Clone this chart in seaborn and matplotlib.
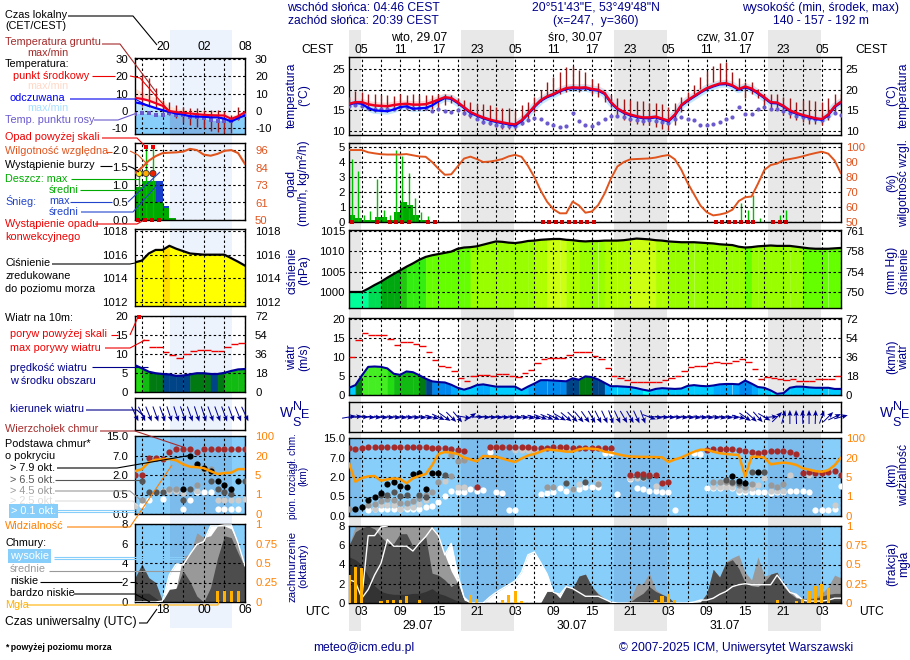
import numpy as np
import matplotlib
matplotlib.use("Agg")
import matplotlib.pyplot as plt
import seaborn as sns

sns.set_theme(style="white")
plt.rcParams['font.family'] = ['Liberation Sans', 'DejaVu Sans']
plt.rcParams['axes.unicode_minus'] = False

# ---------- main panel data (hourly, UTC 01 on 29.07 = hour 0) ----------
temp_mid = [16.6,17,17,16.5,16.2,16.1,16,16.3,16.5,16.6,16.4,16.4,16.5,17,17.6,18.2,18,17,15.8,14.6,13.9,13.3,12.8,12.4,12.1,11.8,11.6,12.6,14.2,16,17.5,18.4,19,19.8,20.4,20.6,20.5,20.6,20.2,20,19.2,17,15.5,14.6,14,13.6,13.3,13.3,13.5,13,12.5,14,16.3,17.5,18.5,19.5,20.4,21,21.5,21.6,21.1,20.2,20.8,20.3,19.3,18.2,17,16.9,16.1,15,14.4,13.9,13.5,13.1,12.9,14,16,17.1]
temp_feel = [16.4,16.8,16.6,15.6,15,14.9,14.8,15.2,15.8,16,15.4,15.5,15.6,16.2,17.2,18,17.8,16.8,15.6,14.4,13.7,13.1,12.6,12.2,11.9,11.6,11.3,12.4,14,15.8,17.3,18.2,18.8,19.6,20.2,20.4,20.3,20.4,20,19.8,19,16.8,15.3,14.4,13.8,13.4,13.1,13.1,13.3,12.8,12.3,13.8,16.1,17.3,18.3,19.3,20.2,20.8,21.3,21.4,20.9,20,20.6,20.1,19.1,18,16.8,16.7,15.9,14.8,14.2,13.7,13.3,12.9,12.7,13.8,15.8,16.9]
dew_point = [16,16.2,16,15.7,15.3,15.3,15.3,15.4,15.8,15.9,15.6,15.6,15.6,14.9,15.4,14.8,14.5,15,14.3,13.8,12.8,12.3,11.9,11.5,11.2,11.2,11.2,11.9,12.7,13.1,12.8,11.9,11.5,11,11.3,14.3,12.5,11.5,11.3,12,12.8,13.7,13.6,13.3,12.9,12.7,12.4,12.7,12.5,12.3,11.9,13,13.3,13,12.7,11.5,11.5,11.7,12.3,12.9,13.3,15.8,14.1,14.1,15.4,15.8,15.3,15.4,14.9,14.3,13.6,13.3,13.1,12.8,12.7,13.6,14.3,13.9]
ground_max = [18.2,19.7,19.4,18.9,18.9,18.7,18.7,18.6,18.9,18.7,18.9,18.7,18.7,18.7,19.1,19,18.7,17.9,17.5,17.1,16.5,16.5,16.3,15.9,15.7,15.5,15.2,16.3,17.1,18.3,19.9,22,23.2,24.4,25.6,25.8,24.8,24.4,22.6,21.6,19.5,18.7,17.9,17.7,17.5,17.3,17.3,16.9,16.7,16.5,15.9,16.9,18.3,19.5,21.2,23.2,24.6,25.8,26.4,26.7,24.4,22.9,22,21.8,20.3,19.1,19.1,19.1,18.3,17.9,17.1,17.5,17.5,17.3,17.1,17.9,19,19.1]
ground_min = [16.5,16.3,15.9,15.1,14.7,14.7,14.7,15.1,15.5,15.1,15.1,15.1,15.1,15.3,15.5,16.3,16.7,16.3,13.9,13.1,12.7,11.8,11.4,11,10.6,10.6,10.2,11.4,12.7,14.7,17.1,18.3,19.1,19.1,19.5,19.9,19.5,19.9,19.1,18.3,17.1,15.9,13.5,12.7,12.3,11.8,11.4,11.4,11,10.6,10.2,11.4,14.7,17.1,19.1,20.3,21.2,22,22,22,21.2,20.3,17.9,19.1,17.9,16.3,15.1,15.1,13.9,13.1,12.7,12.3,11.8,11.8,11.4,12.7,14.3,16.3]
humidity = [98,98,98,96.5,95.8,95.2,95,95,95,95.3,94.5,93.7,93.5,90,85.5,81.5,81.8,87,92.3,93.6,92,90,90.3,91,92,93.8,94.8,93.5,87.5,80,71,63.5,58.5,55.8,55.8,63.6,61,56.2,57,61.3,69,79,87,90,91.8,92,92.2,92.4,93,94,94.7,91.8,85,76,68.5,61,56.5,54.4,55,56,58.2,64,66.5,67,75.5,84.7,88,89,91.3,92,92.8,93.8,95,96,96.9,95.6,91,82.4]
rain_max_hours = [0.4,1.4,2.3,3.3,4.4,5.4,6.4,7.4,8.3,9.4,10.3,11.3,12.3,61.4,62.4,63.3,64.3,67.4,68.4]
rain_max_vals = [4.2,3.4,0.5,0.75,2.85,0.8,0.5,4.8,4.4,3.25,1.6,0.7,0.4,1.24,0.8,1.8,0.24,0.47,0.8]
rain_mean = [0.5,0.3,0.15,0.15,0.35,0.35,0.15,0.65,1.35,1.15,0.45,0.15]
convective_hours = [0.4,4.4,6.4,7.4,8.3,9.4,12.4,13.4,30.3,31.3,32.4,33.3,34.4,35.4,36.3,37.3,38.4,57.4,58.4,59.4,60.4,61.4,62.4,63.3,66.4,67.4,68.4]
pressure = [1000,1000,1000,1000.8,1001.7,1002.5,1003.5,1004.4,1005.3,1006.2,1007,1007.9,1008.6,1009,1009.3,1009.6,1009.9,1010.6,1010.9,1011,1011.2,1011.6,1012,1012.4,1012.3,1012.1,1012,1012.2,1012.5,1012.6,1012.8,1012.9,1013,1013,1012.8,1012.7,1012.5,1012.4,1012.5,1012.5,1012.6,1012.6,1012.6,1012.7,1012.9,1013.1,1013,1012.9,1012.7,1012.6,1012.4,1012.3,1012.2,1012.2,1012.2,1012.1,1012,1011.9,1011.7,1011.6,1011.5,1011.1,1010.9,1011,1011.2,1011.3,1011.4,1011.3,1011.3,1011.3,1011.1,1010.9,1010.7,1010.6,1010.6,1010.6,1010.7,1010.8]
wind = [1.9,2.6,5.1,7.4,7.5,7.4,7,5.6,5.3,6.2,6,5.2,4.3,3.6,3.4,3.3,2.7,1.9,1.4,1.9,2.6,2.8,2.5,2.2,2.2,2.2,2.2,1.3,2.2,3,3.9,3.9,3.8,3.7,3.6,4.4,4,4.9,4.7,4.1,3.2,2.3,2.3,2.2,2.1,1.8,1.4,1.1,1.6,1.8,1.7,1.6,1.7,2.4,2.6,2.4,2.3,2.5,2.8,2.9,2.9,2.8,3.8,3,2.1,1.9,1.2,0.3,0.5,1.9,2.2,2.2,2,1.9,1.9,1.9,1.6,1.6]
gust = [10,14.5,16.3,15.9,15.8,15.8,14.7,13.2,14,13.9,13.4,12.8,11.3,9.3,7.6,7.4,6.4,4.5,3.8,5,5.3,5.3,5.1,5.4,5.6,5.1,4.7,5.9,6.7,8.5,9.5,9.8,9.8,9.8,10.6,11.2,11.2,11.2,10.3,9.5,7.2,5.1,4.5,4,3.5,3.5,3.5,3.5,3.5,3.9,4.6,4.9,6.4,7.4,7.7,7.7,8.3,8.6,8.3,8.3,9,9.6,8.6,6.9,4.3,4.8,4.6,4.1,3.9,4.1,3.8,3.8,3.6,4.1,4.2,4.2,5]
wind_dir = [260,262,270,275,275,277,277,278,278,278,278,278,280,285,295,305,315,320,280,235,270,275,276,276,276,277,278,278,282,285,290,292,295,300,310,315,320,325,330,333,335,340,335,330,330,335,340,290,278,275,275,276,277,277,278,278,278,278,280,277,277,285,305,312,318,300,265,225,195,180,178,178,180,182,200,225,245,255]

# cloud levels: axis positions 0..4 stand for the ticks 0, 0.5, 2, 7, 15 km
visibility = [2.7,1.76,1.95,2.03,2.05,1.81,1.88,1.93,1.9,1.68,1.93,2.05,2.15,2.6,3.18,3.28,3.25,3.18,3,2.9,2.8,3.08,3.05,3.04,2.95,2.85,2.77,2.95,3.1,3.18,3.3,3.42,3.38,3.35,3.3,3.3,3.42,3.47,3.45,3.42,3.3,3.25,3.17,3.1,3.05,3.04,3.03,3.03,3.02,3.01,2.77,2.9,3,3.15,3.3,3.4,3.4,3.3,3.22,3.18,3.15,3.13,2.02,3.04,3.04,3,2.65,2.7,2.74,2.7,2.62,2.45,2.38,2.3,2.27,2.35,2.6,3]
top_hours = [0,1,2,3,4,5,6,7,8,9,10,11,12,13,14,15,16,17,18,20,22,23,24,25,26,27,28,29,30,31,32,33,34,35,36,37,38,39,40,41,44,45,46,47,48,49,50,56,57,58,59,60,61,62,63,64,65,66,67,68,69,70,71,72,73,74,75,76,77]
top_lvl = [3.47,3.42,3.47,3.52,3.52,3.52,3.52,3.52,3.52,3.52,3.52,3.52,3.52,3.47,3.47,3.47,3.42,3.38,3.35,1.5,3.52,3.52,3.52,3.52,3.52,3.52,3.52,3.47,3.47,3.47,3.52,3.52,3.52,3.47,3.47,3.47,3.47,3.47,3.47,3.47,2.1,2.14,2.14,2.1,2.1,1.68,1.76,3.38,3.42,3.42,3.42,3.42,3.38,3.35,3.26,3.25,3.26,3.35,3.35,3.35,3.3,3.2,2.2,2.27,2.22,2.22,2.27,2.32,2.1]
b79_hours = [1,2,3,4,5,6,7,8,9,10,11,12,13,14,60,61,62,64]
b79_lvl = [0.38,0.46,0.82,0.96,1.2,1.62,1.76,1.52,1.47,2.17,2.19,1.37,2.22,2.22,2.03,1.8,1.71,2.24]
b65_hours = [5,6,7,8,9,11,12,15,34,37,45,46,47,59,60,61,63,65]
b65_lvl = [1.08,1.08,1.25,1.03,1.08,1.08,1,2.1,1.71,1.76,2.1,2.02,2.05,1.85,1.76,1.71,2.24,2.27]
b45_hours = [0,3,4,5,6,7,8,9,10,11,12,13,14,16,16,17,18,31,32,35,39,46,57,58,59,60,61,62,63,66,67,68]
b45_lvl = [0.34,0.56,0.62,0.79,0.85,0.82,0.68,0.68,0.79,0.91,1.08,1.25,1.76,2.05,3.13,2.84,2.87,1.47,1.5,1.37,1.64,2.02,1.76,1.76,1.76,1.71,1.59,1.5,1.64,1.59,1.5,1.64]
b25_hours = [4,5,6,7,8,9,10,11,12,15,17,18,26,27,28,29,36,39,44,45,46,48,57,58,59,60,61,62,63,64,65,66,67,68,69,72,76]
b25_lvl = [0.38,0.56,0.56,0.56,0.38,0.44,0.48,0.62,0.82,1.8,1.47,1.47,3.38,3.38,3.38,3.38,1.62,1.71,1.93,1.93,1.93,1.54,1.47,1.47,1.47,1.47,1.33,1.33,1.42,1.59,1.93,1.3,1.3,1.3,2.1,2.1,0.56]
b01_hours = [3,4,5,6,7,8,9,10,11,12,13,14,15,16,17,18,19,20,21,22,23,24,25,26,30,31,32,33,34,35,36,37,38,39,40,41,42,44,45,46,47,48,49,50,51,54,55,56,57,58,59,60,61,62,63,64,65,66,67,68,69,70,71,72,73,74,75,76,77]
b01_lvl = [0.31,0.34,0.34,0.38,0.38,0.34,0.34,0.38,0.38,0.44,0.51,0.74,1.04,1.3,1.23,1.23,1.37,1.28,1.33,3.3,1.23,1.2,0.31,0.31,1.13,1.2,1.25,1.45,1.3,1.37,1.4,1.47,1.47,1.47,3.25,3.25,1.13,1.88,1.42,1.37,1.28,1.28,1.25,1.25,0.31,3.25,3.18,1.45,1.42,1.42,1.54,1.42,1.25,1.25,1.25,1.25,1.25,1.2,1.25,1.25,1.3,1.3,1.3,1.25,0.31,0.31,0.31,0.38,1.54]

cloud_high = [2.4,2.2,0.5,1.4,2.9,4.1,6.6,5.9,5.9,5.9,5.4,6.2,6.9,7.8,7,5,6.2,3,0.6,0,0,0,0.6,1.1,1.5,1.9,2.3,3.2,5,5.3,4.2,3,1.1,0.9,1.7,1.5,1.1,0.7,0.7,0.7,0.4,0.1,0,0,0,0,0,0,0,0,0,0,0,0,0.1,0.3,0.3,0.5,0.9,1.2,1.7,1.9,2,1.9,1.9,1.9,1.9,2.9,2,1.1,0.9,0.3,0.2,0.2,0.2,0.3,0.5,0.5]
cloud_mid = [6,8,8,8,8,8,8,8,8,8,8,8,8,8,7,5,3.3,2.1,0.3,0,0,0,0,0,0,0,0,0,0,0,0,1.2,1.2,0.5,1.7,1.5,2.8,3,1.7,1,0.5,0,0,0,0.3,1.9,2,3.1,1.4,0.9,0.5,0,0,0,0,0.1,1,3.5,2.7,4.3,4.7,5,3.2,2.4,4.8,2.8,3,3.2,2,1.3,0.6,0.5,0.5,0.6,1,1.7,2.9,2.6]
cloud_low = [6,7.4,7.8,8,7.7,6.9,6.2,6.2,7.2,7.2,5.9,6.3,6.9,3.1,2.9,2.4,1.7,2.2,0.3,0,0,0,0,0,0,0,0,0,0,0,0,1.2,1.2,0.5,1.7,1.5,2.8,3,1.7,0.9,0.4,0,0,0,0.1,0.6,1,1.7,1.2,0.9,0.6,0,0,0,0,0.1,1,3.5,2.7,4.2,4.5,3.6,2.1,1.8,1.7,2.2,3,3.2,1.7,1,0.5,0.4,0.4,0.5,0.7,0.9,1,1]
cloud_vlow = [4.8,4.5,4,2.8,1.8,1.2,1,0.9,0.9,0.9,1,1,1.2,1.5,1,0.8,0.5,0.2,0,0,0,0,0,0,0,0,0,0,0,0,0,0,0,0.1,0.1,0.1,0.1,0.1,0.1,0,0,0,0,0,0,0,0.2,0.2,0.2,0.2,0,0,0,0,0,0,0,0,0,0,0,0,0,0,0,0,0,0,0,0,0,0,0,0.1,0.2,0.3,0.3,0.3]
line_high2_hours = [2,3,4,5,6]
line_high2 = [0.5,7,7,7.9,8]
fog_hours = [0,1,2,5,6,7,8,9,11,19,20,24,25,26,27,48,49,50,51,67,70,71,72,73,74,75]
fog_frac = [0.37,0.47,0.46,0.03,0.04,0.04,0.04,0.09,0.04,0.1,0.05,0.04,0.1,0.16,0.03,0.04,0.09,0.12,0.04,0.04,0.03,0.05,0.15,0.22,0.25,0.19]

# ---------- small panel data (17 hours, UTC 14 .. 06) ----------
m_temp = [7.5,7,6,4.5,3,0,-0.6,-1,-1.4,-1.8,-2.2,-2.4,-2.5,-2.6,-4.5,-3,-0.6]
m_feel = [5,4.2,3,1.7,0.5,-0.5,-1.5,-2,-3,-3.2,-3.3,-3.6,-3.6,-4.4,-6,-4,-2.5]
m_tmax = [13,11,9,8,6,3,1.5,1,0.7,0.5,0.2,0,-0.3,-0.6,-2.5,-1.5,0]
m_dew = [-1.5,-1.3,-1.3,-2,-2.3,-1.3,-2,-2.3,-3.2,-3.6,-4.2,-5.2,-5.6,-5.6,-5.6,-4.2,-2]
m_gmax = [20.7,18.8,13,6.3,5.4,3.4,2.5,1.5,1.5,0.6,0.6,0.6,0,-2.3,2.5]
m_gmin = [3,3.4,2.5,-0.5,-2.3,-4.2,-6.1,-8,-9,-10,-11.3,-11.9,-12.4,-12.8,-5.2]
m_humidity = [80.9,84.5,89,92,94,94.3,94.5,95,96.8,96,93,92.3,93.5,95.5,96,94,86.8]
m_rain_mean = [0.95,1.1,1.1,0.52,0.34,0.05]
m_snow_max = [0,0,0,1.1,0.4,0]
m_rain_max = [1.3,2.1,2.1]
m_pressure = [1015.35,1015.5,1016.1,1016.4,1016.4,1016.75,1016.5,1016.3,1016.1,1016.05,1016,1016,1016,1016,1015.7,1015.4,1015.07]
m_wind = [7,6.2,5.3,4.9,4.7,4.6,4.2,4.3,4.6,4.9,4.9,4.7,4.7,5,5.5,5.9,6]
m_gust = [13.5,11.7,11.7,10.5,9.6,8.8,9.9,10.6,10.9,10.9,10.7,10.7,11.7,12.6,12.9]
m_dir = [335,335,338,340,340,342,342,340,340,342,342,340,340,340,340,338,335]
m_top = [2,2,2.85,2.85,2.8,3.2,3.32,3.32,3.32,3.2,3.32,3.32,3.32,3.32,3.32,3.32,3.32]
m_b79_k = [7,8,9,10,11,12,13,14,15]
m_b79 = [1.26,2.97,2.55,2.38,2.22,1.69,1.49,1.26,1.69]
m_b65_k = [1,2,3,4,7,8,11,12,13,14,16]
m_b65 = [1.69,1.11,1.11,1.11,0.72,1.26,1.69,1.26,1.11,1.03,1.69]
m_b45_k = [1,5,6,9,10,11]
m_b45 = [0.72,1.26,1.26,1.49,2.29,2.29]
m_b25_k = [0,4,5,6,7,9,12,13,14,15,16]
m_b25 = [0.41,1.2,1.2,1.2,1.1,1.2,0.7,0.7,0.7,0.7,0.75]
m_b01_k = [1,2,4,7,8,9,10,11,12,13,14,15]
m_b01 = [0.46,0.72,0.75,0.24,0.72,1.15,1.15,1.15,0.24,0.24,0.24,0.24]
m_vis = [2.2,2.3,2.65,2.78,2.8,2.82,2.75,2.55,2.42,2.4,2.35,2.2,2.05,2.1,2.12,2.3,2.3]
m_high = [0,0,0,0,0.1,2.8,3.9,3.8,4.9,5.9,6.2,7.8,7.8,7.9,7.9,6,3.7]
m_mid = [0,0,0,0,0,0.5,1.5,4.7,4.9,7.1,6.6,6.8,7.8,7.8,7.5,6,3.5]
m_low = [2.5,3.9,2.5,2,0.1,1.3,1.4,3.2,2.1,0.6,0,1.5,4.5,6.8,6.6,5,3.5]
m_vlow = [0.9,0.9,0.9,0.4,0,0,0,0,0,0,0,0,0,0,0,0,0]
m_fog_k = [12,13,14,15]
m_fog = [0.14,0.14,0.14,0.14]

# ---------- tick labels and text ----------
cest_labels = ['05','11','17','23','05','11','17','23','05','11','17','23','05']
utc_labels = ['03','09','15','21','03','09','15','21','03','09','15','21','03']
night_spans = [(0,1.9),(17.5,25.8),(41.5,49.8),(65.5,73.9)]

NAVY = '#00008b'; RHC = '#e0541e'; ORG = '#ff8000'; GUST='#ee0000'; BROWN='#a52a2a'
SKY = '#87cefa'; SKYN = '#7cbcec'
W, Ht = 910, 660
fig = plt.figure(figsize=(W/100, Ht/100), dpi=100, facecolor='white')
FS = 8.7    # header, time labels
TFS = 8.2   # value tick labels
LFS = 7.8   # left legend

def panel(l, t, r, b):
    ax = fig.add_axes([l/W, 1-b/Ht, (r-l)/W, (b-t)/Ht], zorder=2)
    ax.patch.set_visible(False)
    return ax

# background layer
bg = fig.add_axes([0,0,1,1], zorder=0); bg.set_xlim(0,W); bg.set_ylim(Ht,0); bg.axis('off')
MX = lambda h: 349 + 6.39*h
for a, b_ in night_spans:
    bg.fill_between([MX(a), MX(b_)], 30, 631, color='#e8e8e8', lw=0)
bg.fill_between([170,232], 30, 628, color='#edf3fd', lw=0)

def frame(ax, xt, xlim, ylim, yt, ylab, rt=None, rlab=None, rcolor='black', lpad=2.9, rpad=3.4):
    ax.set_xlim(*xlim); ax.set_ylim(*ylim)
    ax.set_xlabel(''); ax.set_ylabel('')
    ax.set_xticks(xt); ax.set_xticklabels([])
    ax.set_yticks(yt); ax.set_yticklabels(ylab, fontsize=TFS, color='black')
    ax.tick_params(length=0, pad=lpad)
    ax.grid(True, color='black', lw=0.8, ls=(0,(2.2,2.2)))
    ax.set_axisbelow(False)
    for s in ax.spines.values():
        s.set_visible(True); s.set_color('black'); s.set_linewidth(1.0)
    if rt is not None:
        sec = ax.secondary_yaxis('right')
        sec.set_yticks(rt); sec.set_yticklabels(rlab, fontsize=TFS, color=rcolor)
        sec.tick_params(length=0, pad=rpad)
        sec.spines['right'].set_visible(False)

def line(ax, y, color, lw=1.5, z=3, x=None):
    x = np.arange(len(y)) if x is None else x
    sns.lineplot(x=x, y=y, ax=ax, color=color, linewidth=lw, zorder=z, legend=False, errorbar=None, estimator=None)

def dots(ax, x, y, color, s=20, z=3, marker='o'):
    sns.scatterplot(x=x, y=y, ax=ax, color=color, s=s, linewidth=0, zorder=z, legend=False, marker=marker)

def pressure_color(p):
    for lim, c in [(1000.5,'#00ff99'),(1002.5,'#00dd55'),(1004.5,'#00a810'),(1006.2,'#22c810'),(1008.6,'#33ee10'),
                   (1010.95,'#66ff00'),(1012.55,'#99ff00'),(1012.85,'#b0ff00')]:
        if p < lim: return c
    return '#ccff11'

def wind_color(w):
    for lim, c in [(1.5,'#00ffff'),(2.7,'#00ccff'),(3.3,'#00aaff'),(4,'#0088ee'),(4.8,'#004488'),
                   (5.5,'#007a11'),(6.5,'#11bb11'),(7.2,'#22dd11')]:
        if w < lim: return c
    return '#44ee22'

def coloured_fill(ax, y, base, colorfn):
    x = np.arange(len(y))
    for i in range(len(y)-1):
        ax.fill_between(x[i:i+2], base, y[i:i+2], color=colorfn(max(y[i], y[i+1]) if colorfn is wind_color else y[i]), lw=0.3, zorder=1)

def quiver(ax, dirs, n, length=14):
    d = np.radians(dirs)
    ax.quiver(np.arange(n), np.full(n, 0.5), -np.sin(d)*length, -np.cos(d)*length, angles='uv', pivot='mid',
              units='dots', scale_units='dots', scale=1, width=1.0, headwidth=5, headlength=6, headaxislength=5,
              color='#000099', clip_on=False, zorder=3)

def cloud_cover(ax, hi, mi, lo, vl):
    x = np.arange(len(hi))
    ax.fill_between(x, 0, hi, color='white', lw=0, zorder=1)
    ax.fill_between(x, 0, mi, color='#999999', lw=0, zorder=1.1)
    ax.fill_between(x, 0, lo, color='#4d4d4d', lw=0, zorder=1.2)
    ax.fill_between(x, 0, vl, color='#333333', lw=0, zorder=1.3)

MXL = (0, 77); MXT = np.arange(2, 78, 3)
SXL = (0, 16); SXT = np.arange(1, 17, 3)
t_rows = [10,15,20,25]; t_lab = ['10','15','20','25']

# ---- main temperature ----
ax = panel(349,57,841,135)
x = np.arange(78)
line(ax, temp_mid, '#ffd9d9', lw=5, z=2.1)
line(ax, temp_feel, '#c4e8ff', lw=5, z=2.2)
ax.vlines(x, ground_min, ground_max, color='#a01515', lw=1, zorder=2.6)
dots(ax, x, dew_point, '#6a5acd', s=9, z=2.7)
line(ax, temp_feel, '#0000ff', lw=1.6, z=3)
line(ax, temp_mid, '#ee0022', lw=1.8, z=3.1)
frame(ax, MXT, MXL, (9.03,27.96), t_rows, t_lab, t_rows, t_lab)

# ---- main precipitation ----
ax = panel(349,143,841,222)
ax.bar(np.arange(len(rain_mean)), rain_mean, width=1, align='edge', color='#00aa00', lw=0, zorder=1)
ax.vlines(rain_max_hours, 0, rain_max_vals, color='#00c000', lw=1, zorder=2)
frame(ax, MXT, MXL, (0,5.27), [0,1,2,3,4,5], list('012345'))
ax.scatter(convective_hours, np.zeros(len(convective_hours)), marker='s', s=6, color='#cc0000', lw=0, clip_on=False, zorder=5)
tw = ax.twinx(); tw.patch.set_visible(False); tw.set_zorder(3)
line(tw, humidity, RHC, lw=1.4)
tw.set_ylim(50,102.7); tw.set_xlim(*MXL); tw.set_ylabel('')
tw.set_yticks([50,60,70,80,90,100]); tw.set_yticklabels(['50','60','70','80','90','100'], fontsize=TFS, color=RHC)
tw.tick_params(length=0, pad=3.4); tw.grid(False)
for s in tw.spines.values(): s.set_visible(False)

# ---- main pressure ----
ax = panel(349,230,841,308)
coloured_fill(ax, pressure, 990, pressure_color)
line(ax, pressure, 'black', lw=1.6)
frame(ax, MXT, MXL, (996.07,1015.2), [1000,1005,1010,1015], ['1000','1005','1010','1015'],
      [1000,1005,1010,1015], ['750','754','758','761'])

# ---- main wind ----
ax = panel(349,318,841,395)
coloured_fill(ax, wind, 0, wind_color)
line(ax, wind, '#000099', lw=1.5)
ax.hlines(gust, np.arange(len(gust)), np.arange(len(gust))+1, color=GUST, lw=1, zorder=3)
frame(ax, MXT, MXL, (0,20.26), [0,5,10,15,20], ['0','5','10','15','20'],
      [0,5,10,15,20], ['0','18','36','54','72'])

# ---- main wind direction ----
ax = panel(349,402,841,432)
quiver(ax, wind_dir, 78)
frame(ax, MXT, MXL, (0,1), [], [])

# ---- main cloud base ----
lv = [0,1,2,3,4]
ax = panel(349,438,841,516)
ax.set_facecolor(SKY); ax.patch.set_visible(True)
for a, b_ in night_spans:
    ax.axvspan(a, b_, color=SKYN, lw=0, zorder=0.5)
dots(ax, b01_hours, b01_lvl, 'white', z=3)
dots(ax, b25_hours, b25_lvl, '#cccccc', z=3.1)
dots(ax, b45_hours, b45_lvl, '#999999', z=3.2)
dots(ax, b65_hours, b65_lvl, '#555555', z=3.3)
dots(ax, b79_hours, b79_lvl, 'black', z=3.4)
dots(ax, top_hours, top_lvl, '#a52a2a', z=3.5)
line(ax, visibility, '#ff9900', lw=1.8, z=4)
frame(ax, MXT, MXL, (0,4), lv, ['0.0','0.5','2.0','7.0','15.0'], lv, ['0','1','5','20','100'], ORG)

# ---- main cloud cover ----
ax = panel(349,526,841,603)
ax.set_facecolor(SKY); ax.patch.set_visible(True)
for a, b_ in night_spans:
    ax.axvspan(a, b_, color=SKYN, lw=0, zorder=0.5)
cloud_cover(ax, cloud_high, cloud_mid, cloud_low, cloud_vlow)
line(ax, cloud_high, 'white', lw=1, z=3)
line(ax, line_high2, 'white', lw=1, z=3, x=line_high2_hours)
frame(ax, MXT, MXL, (0,8), [0,2,4,6,8], ['0','2','4','6','8'])
tw = ax.twinx(); tw.patch.set_visible(False); tw.set_zorder(3)
tw.bar(fog_hours, fog_frac, width=0.5, color='#ffb000', lw=0, zorder=3)
tw.set_ylim(0,1); tw.set_xlim(*MXL)
tw.set_yticks([0,.25,.5,.75,1]); tw.set_yticklabels(['0','0.25','0.5','0.75','1'], fontsize=TFS, color=ORG)
tw.tick_params(length=0, pad=3.4); tw.grid(False)
for s in tw.spines.values(): s.set_visible(False)

# ---- small temperature ----
sp = dict(lpad=5, rpad=7.2)
ax = panel(135,57.5,245,134)
k = np.arange(17)
low = -14
ax.fill_between(k, m_temp, m_tmax, color='#ffe2d4', lw=0, zorder=1)
ax.fill_between(k, m_dew, m_feel, color='#bfe6ff', lw=0, zorder=1)
ax.fill_between(k, low, m_dew, color=SKY, lw=0, zorder=1.1)
ax.fill_between(k[5:15], low, np.array(m_dew)[5:15], color='#7fb4e6', lw=0, zorder=1.2)
ax.vlines(k[1:16], m_gmin, m_gmax, color='#a01515', lw=1, zorder=2.6)
dots(ax, k, m_dew, '#6a5acd', s=8, z=2.7, marker='s')
line(ax, m_feel, '#0000ff', lw=1.6, z=3)
line(ax, m_temp, '#ee0022', lw=1.6, z=3.1)
ttk = [-10,0,10,20,30]; ttl = ['-10','0','10','20','30']
frame(ax, SXT, SXL, (-13.2,30.75), ttk, ttl, ttk, ttl, **sp)

# ---- small precipitation ----
ax = panel(135,143,245,220)
ax.bar(np.arange(len(m_snow_max)), m_snow_max, width=1, align='edge', color='#1a3fcc', lw=0, zorder=1)
ax.bar(np.arange(len(m_rain_mean)), m_rain_mean, width=1, align='edge', color='#00aa00', lw=0, zorder=1.1)
stem_x = [0.6,1.6,2.6]
ax.vlines(stem_x, 0, m_rain_max, color='#00c000', lw=1, zorder=2)
frame(ax, SXT, SXL, (0,2.2), [0,.5,1,1.5,2], ['0.0','0.5','1.0','1.5','2.0'], **sp)
ax.scatter(stem_x, [1.33]*3, s=20, c=['#ffee00','#ffaa00','#ee2200'], edgecolors='#333333', linewidths=.6, zorder=5)
ax.scatter(stem_x[1:], [2.08,2.08], marker='s', s=7, color='#ee0000', lw=0, zorder=5)
ax.scatter([0.5,1.5,2.5,3.5], [0]*4, marker='s', s=6, color='#cc0000', lw=0, clip_on=False, zorder=5)
tw = ax.twinx(); tw.patch.set_visible(False); tw.set_zorder(3)
line(tw, m_humidity, RHC, lw=1.5)
tw.set_ylim(50,100.66); tw.set_xlim(*SXL); tw.set_ylabel('')
tw.set_yticks([50,61,73,84,96]); tw.set_yticklabels(['50','61','73','84','96'], fontsize=TFS, color=RHC)
tw.tick_params(length=0, pad=7.2); tw.grid(False)
for s in tw.spines.values(): s.set_visible(False)

# ---- small pressure ----
ax = panel(135,229,245,306)
ax.fill_between(k, 1010, m_pressure, color='#ffff00', lw=0, zorder=1)
ax.fill_between(k[4:6], 1010, np.array(m_pressure)[4:6], color='#ffdd00', lw=0, zorder=1.1)
line(ax, m_pressure, 'black', lw=1.6)
ptk = [1012,1014,1016,1018]; ptl = ['1012','1014','1016','1018']
frame(ax, SXT, SXL, (1011.66,1018.17), ptk, ptl, ptk, ptl, **sp)

# ---- small wind ----
ax = panel(135,315.5,245,392)
coloured_fill(ax, m_wind, 0, wind_color)
line(ax, m_wind, '#000099', lw=1.6)
ax.hlines(m_gust, np.arange(len(m_gust))+1, np.arange(len(m_gust))+2, color=GUST, lw=1, zorder=3)
frame(ax, SXT, SXL, (0,20), [0,5,10,15,20], ['0','5','10','15','20'], [0,5,10,15,20], ['0','18','36','54','72'], **sp)
ax.scatter([0.6], [19.7], marker='s', s=6, color='#ee0000', lw=0, clip_on=False, zorder=5)

# ---- small wind direction ----
ax = panel(135,398,245,430)
quiver(ax, m_dir, 17, length=16)
frame(ax, SXT, SXL, (0,1), [], [], **sp)

# ---- small cloud base ----
ax = panel(135,436,245,514)
ax.set_facecolor(SKY); ax.patch.set_visible(True)
ax.axvspan(5.1, 14.1, color=SKYN, lw=0, zorder=0.5)
dots(ax, m_b01_k, m_b01, 'white', z=3)
dots(ax, m_b25_k, m_b25, '#cccccc', z=3.1)
dots(ax, m_b45_k, m_b45, '#999999', z=3.2)
dots(ax, m_b65_k, m_b65, '#555555', z=3.3)
dots(ax, m_b79_k, m_b79, 'black', z=3.4)
dots(ax, k, m_top, '#a52a2a', z=3.5)
line(ax, m_vis, '#ff9900', lw=1.8, z=4)
frame(ax, SXT, SXL, (0,4), lv, ['0.0','0.5','2.0','7.0','15.0'], lv, ['0','1','5','20','100'], ORG, **sp)

# ---- small cloud cover ----
ax = panel(135,524,245,602)
ax.set_facecolor(SKY); ax.patch.set_visible(True)
ax.axvspan(5.1, 14.1, color=SKYN, lw=0, zorder=0.5)
cloud_cover(ax, m_high, m_mid, m_low, m_vlow)
line(ax, m_high, 'white', lw=1, z=3)
frame(ax, SXT, SXL, (0,8), [0,2,4,6,8], ['0','2','4','6','8'], **sp)
tw = ax.twinx(); tw.patch.set_visible(False); tw.set_zorder(3)
tw.bar(m_fog_k, m_fog, width=0.45, color='#ffb000', lw=0, zorder=3)
tw.set_ylim(0,1); tw.set_xlim(*SXL)
tw.set_yticks([0,.25,.5,.75,1]); tw.set_yticklabels(['0','0.25','0.5','0.75','1'], fontsize=TFS, color=ORG)
tw.tick_params(length=0, pad=7.2); tw.grid(False)
for s in tw.spines.values(): s.set_visible(False)

# ---------- overlay: text and leader lines in pixel coordinates ----------
ov = fig.add_axes([0,0,1,1], zorder=5); ov.set_xlim(0,W); ov.set_ylim(Ht,0); ov.axis('off')
def T(x, y, s, c='black', ha='left', size=FS, **kw):
    ov.text(x, y, s, color=c, ha=ha, va='center', fontsize=size, **kw)

# header
T(363,8,'wschód słońca: 04:46 CEST',NAVY,'center'); T(363,21,'zachód słońca: 20:39 CEST',NAVY,'center')
T(596,8,'20°51\'43"E, 53°49\'48"N',NAVY,'center'); T(596,21,'(x=247,  y=360)',NAVY,'center')
T(821,8,'wysokość (min, środek, max)',NAVY,'center'); T(821,21,'140 - 157 - 192 m',NAVY,'center')
T(419,37,'wto, 29.07',ha='center'); T(575,37,'śro, 30.07',ha='center'); T(726,37,'czw, 31.07',ha='center')
T(318,50,'CEST',ha='center'); T(872,50,'CEST',ha='center')
T(318,612,'UTC',ha='center'); T(872,612,'UTC',ha='center')
for i,(a,b_) in enumerate(zip(cest_labels, utc_labels)):
    T(MX(2+6*i),50,a,ha='center'); T(MX(2+6*i),612,b_,ha='center')
T(418,626,'29.07',ha='center'); T(572,626,'30.07',ha='center'); T(725,626,'31.07',ha='center')
for x_,s in [(163,'20'),(204,'02'),(245,'08')]: T(x_,47,s,ha='center')
for x_,s in [(163,'18'),(204,'00'),(245,'06')]: T(x_,610,s,ha='center')
T(364,648,'meteo@icm.edu.pl',NAVY,'center'); T(736,648,'© 2007-2025 ICM, Uniwersytet Warszawski',NAVY,'center')
T(5,648,'* powyżej poziomu morza',size=6.3,fontweight='bold')

# rotated axis titles
def R(x,y,s,size=FS):
    ov.text(x,y,s,color=NAVY,ha='center',va='center',rotation=90,fontsize=size,linespacing=1.0)
R(298,95,'temperatura\n(°C)'); R(298,183,'opad\n(mm/h, kg/m²/h)'); R(298,270,'ciśnienie\n(hPa)'); R(298,357,'wiatr\n(m/s)')
R(298,476,'pion. rozciągł. chm.\n(km)',7.2); R(298,566,'zachmurzenie\n(oktanty)',8.2)
R(898,95,'(°C)\ntemperatura'); R(898,183,'(%)\nwilgotność wzgl.'); R(898,270,'(mm Hg)\nciśnienie'); R(898,357,'(km/h)\nwiatr')
R(898,475,'(km)\nwidzialność'); R(898,564,'(frakcja)\nmgła')
for dx in (0,600):
    T(287+dx,413,'W',NAVY,'center',size=10); T(298+dx,407,'N',NAVY,'center',size=9)
    T(305+dx,415,'E',NAVY,'center',size=9); T(297+dx,423,'S',NAVY,'center',size=9)

# left legend
legend_txt = [
 (5,15,'Czas lokalny','black'),(5,26,'(CET/CEST)','black'),(5,42,'Temperatura gruntu',BROWN),(27,53,'max/min',BROWN),
 (5,64,'Temperatura:','black'),(13,76,'punkt środkowy','#ee0000'),(27,86,'max/min','#ffd9c8'),(10,98,'odczuwana','#0000ee'),
 (27,108,'max/min','#a8e0ff'),(5,120,'Temp. punktu rosy','#6a5acd'),(5,137,'Opad powyżej skali','#ee0000'),
 (5,151,'Wilgotność względna',RHC),(5,165,'Wystąpienie burzy','black'),(5,179,'Deszcz: max','#00aa00'),(49,190,'średni','#00aa00'),
 (5,201,'Śnieg:','#2244cc'),(49,201,'max','#2244cc'),(49,212,'średni','#2244cc'),(5,224,'Wystąpienie opadu','#ee0000'),
 (5,237,'konwekcyjnego','#ee0000'),(5,263,'Ciśnienie','black'),(5,276,'zredukowane','black'),(5,289,'do poziomu morza','black'),
 (5,318,'Wiatr na 10m:','black'),(10,334,'poryw powyżej skali','#ee0000'),(10,348,'max porywy wiatru','#ee0000'),
 (10,368,'prędkość wiatru',NAVY),(10,381,'w środku obszaru',NAVY),(10,409,'kierunek wiatru',NAVY),(5,429,'Wierzchołek chmur',BROWN),
 (5,444,'Podstawa chmur*','black'),(5,456,'o pokryciu','black'),(10,468,'> 7.9 okt.','black'),(10,480,'> 6.5 okt.','#555555'),
 (10,491,'> 4.5 okt.','#999999'),(10,501,'> 2.5 okt.','#dddddd'),(5,526,'Widzialność',ORG),(5,543,'Chmury:','black'),
 (10,569,'średnie','#999999'),(10,581,'niskie','black'),(10,593,'bardzo niskie','black'),(5,605,'Mgła','#ffb000'),
]
for x_,y_,s,c in legend_txt: T(x_,y_,s,c,size=LFS)
T(5,622,'Czas uniwersalny (UTC)','black',size=FS)
for x_,y_,s in [(11,511,'> 0.1 okt.'),(10,556,'wysokie')]:
    T(x_,y_,s,'white',size=LFS,bbox=dict(facecolor=SKY,edgecolor='none',pad=1.2))

leaders = [
 ([68,133,157],[16,16,45],'black'),([102,120,156],[44,44,92],BROWN),([92,115],[76,76],'#ee0000'),([130,140,170],[76,78,112],'#ee0000'),
 ([70,135,150],[99,99,107],'#0000ee'),([94,118,137],[120,120,113],'#6a5acd'),([102,137,145],[138,138,146],'#ee0000'),
 ([106,112],[152,152],RHC),([130,138,148],[151,155,165],RHC),([100,112],[166,166],'black'),([128,133,139],[166,168,172],'black'),
 ([71,139],[179,179],'#00aa00'),([80,141],[190,190],'#00aa00'),([70,112],[202,202],'#2244cc'),([128,160],[202,172],'#2244cc'),
 ([81,133,160],[212,212,182],'#2244cc'),([95,137,146],[224,224,219],'#ee0000'),([52,130,135],[264,264,263],'black'),
 ([111,118],[335,335],'#ee0000'),([130,138],[335,317],'#ee0000'),([105,130,145],[348,348,340],'#ee0000'),([92,148],[367,367],NAVY),
 ([86,137,145],[410,410,417],NAVY),([100,135,183],[431,431,447],BROWN),([57,117,192],[468,468,455],'black'),([55,143],[480,480],'#555555'),
 ([55,130,143],[491,491,502],'#999999'),([55,133,138],[501,501,506],'#dddddd'),([55,135],[510,510],SKY),([55,135],[512,512],SKY),
 ([67,130,172],[527,527,465],ORG),([54,185],[557,557],SKY),([54,185],[559,559],SKY),([49,192],[571,571],'#999999'),
 ([40,122],[582,582],'black'),([130,136],[582,582],'black'),([74,135,150],[594,594,602],'black'),([27,218,219],[605,605,600],'#ffb000'),
 ([139,147,157],[623,623,609],'black'),
]
for xs, ys, c in leaders:
    ov.plot(xs, ys, color=c, lw=0.8, solid_capstyle='butt')
ov.set_xlim(0,W); ov.set_ylim(Ht,0)

fig.savefig('out.png', dpi=100, facecolor='white')
